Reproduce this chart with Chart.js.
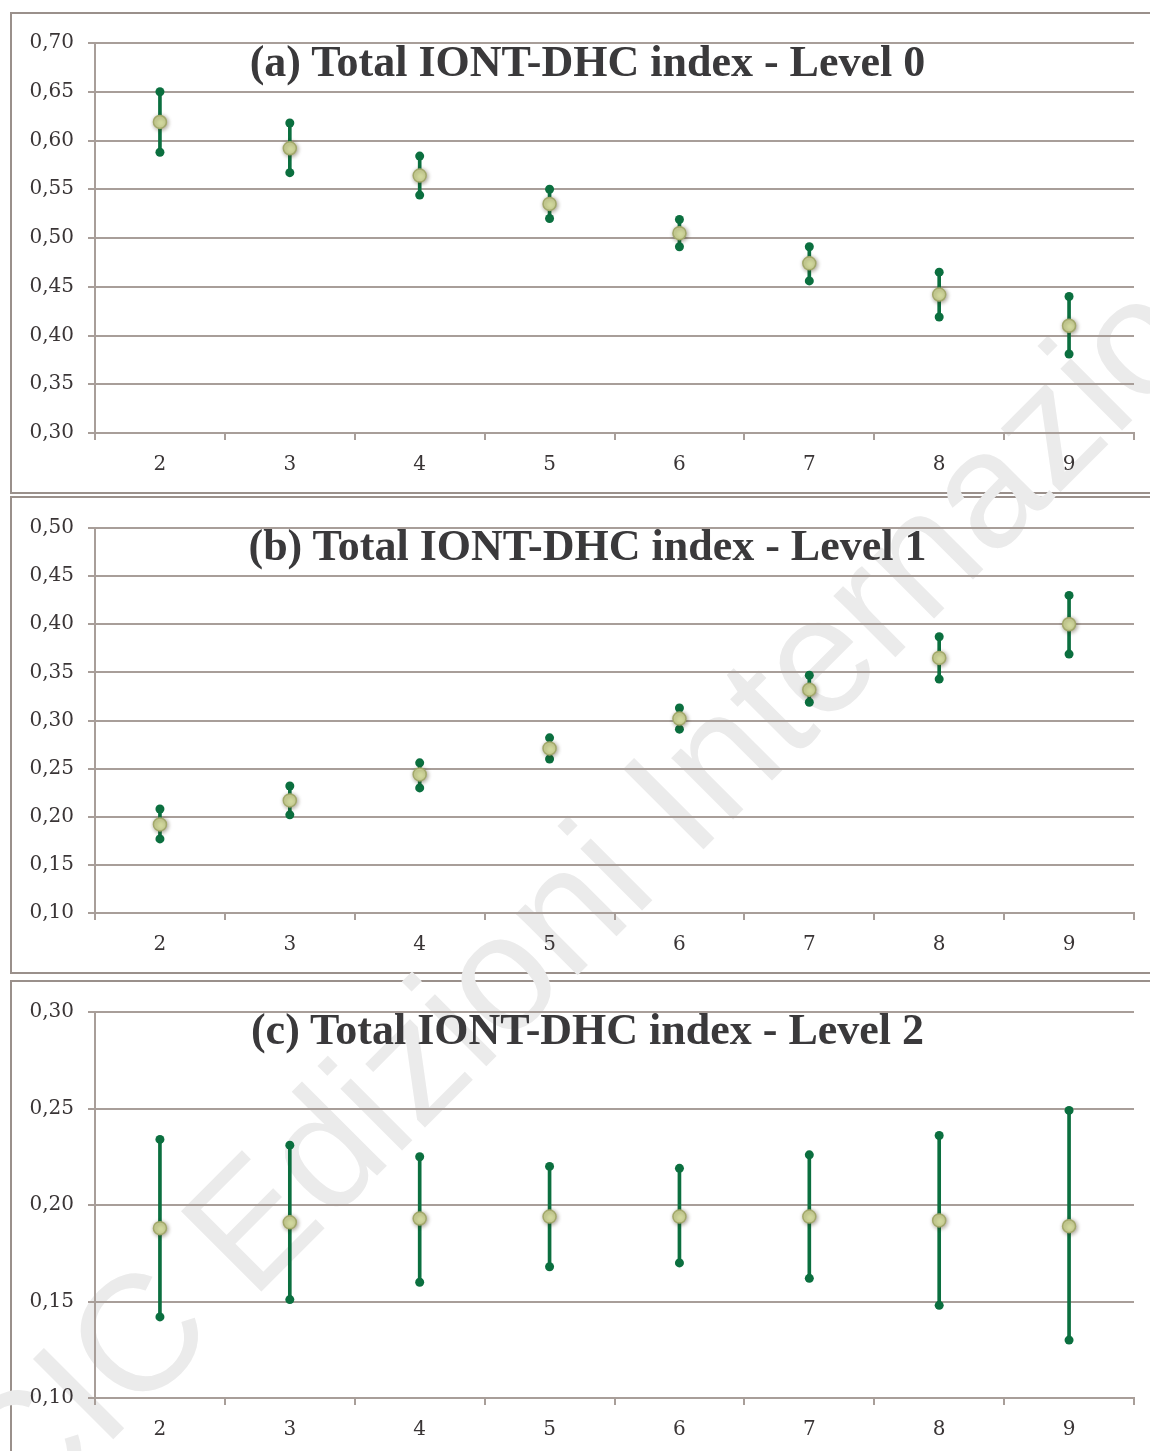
<!DOCTYPE html>
<html>
<head>
<meta charset="utf-8">
<script src="https://cdn.jsdelivr.net/npm/chart.js@4.4.1/dist/chart.umd.min.js"></script>
<style>
  html, body { margin: 0; padding: 0; background: #fff; }
  body { width: 1150px; height: 1451px; position: relative; overflow: hidden; }
  .panel { position: absolute; left: 10px; width: 1200px; border: 2px solid #9a908b; box-sizing: border-box; }
  .wrap { position: absolute; left: 0; width: 1150px; z-index: 2; }
  .title { position: absolute; left: 0; width: 1175px; text-align: center; z-index: 3;
           font-family: "Liberation Serif", serif; font-weight: bold; font-size: 44px;
           line-height: 44px; color: #3a393b; white-space: nowrap; }
  .watermark { position: absolute; z-index: 1; font-family: "Liberation Sans", sans-serif;
               font-size: 165px; line-height: 1; color: #ebebeb; white-space: nowrap;
               transform-origin: 0 0; transform: rotate(-45deg); }
</style>
</head>
<body>
<div class="panel" style="top:12px;height:482px;"></div>
<div class="panel" style="top:496px;height:478px;"></div>
<div class="panel" style="top:980px;height:500px;"></div>

<div class="watermark" style="left:-80px;top:1436px;">CIC Edizioni Internazionali</div>

<div class="wrap" style="top:13px;height:480px;"><canvas id="chartA"></canvas></div>
<div class="wrap" style="top:497px;height:476px;"><canvas id="chartB"></canvas></div>
<div class="wrap" style="top:981px;height:470px;"><canvas id="chartC"></canvas></div>

<div class="title" style="top:40px;">(a) Total IONT-DHC index - Level 0</div>
<div class="title" style="top:524px;">(b) Total IONT-DHC index - Level 1</div>
<div class="title" style="top:1008px;">(c) Total IONT-DHC index - Level 2</div>

<script>
// categorie (asse x)
const categories = ['2', '3', '4', '5', '6', '7', '8', '9'];

// Level 0
const level0Mean = [0.619, 0.592, 0.564, 0.535, 0.505, 0.474, 0.442, 0.410];
const level0Low  = [0.588, 0.567, 0.544, 0.520, 0.491, 0.456, 0.419, 0.381];
const level0High = [0.650, 0.618, 0.584, 0.550, 0.519, 0.491, 0.465, 0.440];

// Level 1
const level1Mean = [0.192, 0.217, 0.244, 0.271, 0.302, 0.332, 0.365, 0.400];
const level1Low  = [0.177, 0.202, 0.230, 0.260, 0.291, 0.319, 0.343, 0.369];
const level1High = [0.208, 0.232, 0.256, 0.282, 0.313, 0.347, 0.387, 0.430];

// Level 2
const level2Mean = [0.188, 0.191, 0.193, 0.194, 0.194, 0.194, 0.192, 0.189];
const level2Low  = [0.142, 0.151, 0.160, 0.168, 0.170, 0.162, 0.148, 0.130];
const level2High = [0.234, 0.231, 0.225, 0.220, 0.219, 0.226, 0.236, 0.249];

const GREEN = '#0b6f3f';
const GRID = '#a89e99';
const TEXT = '#3a3536';

// ombra leggera sotto i marker della media
const shadowPlugin = {
    id: 'meanShadow',
    beforeDatasetDraw(chart, args) {
        if (args.index === 3) {
            const ctx = chart.ctx;
            ctx.save();
            ctx.shadowColor = 'rgba(60, 50, 20, 0.45)';
            ctx.shadowBlur = 4;
            ctx.shadowOffsetX = 1;
            ctx.shadowOffsetY = 1;
        }
    },
    afterDatasetDraw(chart, args) {
        if (args.index === 3) chart.ctx.restore();
    }
};

function makeChart(id, mean, low, high, yMin, yMax, padTop, xHeight) {
    const ctx = document.getElementById(id).getContext('2d');
    return new Chart(ctx, {
        type: 'bar',
        data: {
            labels: categories,
            datasets: [
                {
                    type: 'bar',
                    data: low.map((l, i) => [l, high[i]]),
                    backgroundColor: GREEN,
                    borderWidth: 0,
                    barThickness: 3,
                    order: 4
                },
                {
                    type: 'line',
                    data: low,
                    showLine: false,
                    pointRadius: 4.5,
                    pointBackgroundColor: GREEN,
                    pointBorderWidth: 0,
                    order: 3
                },
                {
                    type: 'line',
                    data: high,
                    showLine: false,
                    pointRadius: 4.5,
                    pointBackgroundColor: GREEN,
                    pointBorderWidth: 0,
                    order: 2
                },
                {
                    type: 'line',
                    data: mean,
                    showLine: false,
                    pointRadius: 6.5,
                    pointBackgroundColor: '#d3da9f',
                    pointBorderColor: '#a2a86a',
                    pointBorderWidth: 1.5,
                    order: 1
                }
            ]
        },
        options: {
            responsive: true,
            maintainAspectRatio: false,
            animation: false,
            layout: { padding: { left: 0, right: 16, top: padTop, bottom: 0 } },
            scales: {
                x: {
                    offset: true,
                    grid: { offset: true, drawOnChartArea: false, drawTicks: true, tickLength: 7, color: GRID, lineWidth: 2 },
                    border: { display: true, color: GRID, width: 2 },
                    ticks: { color: TEXT, padding: 13, font: { family: 'DejaVu Serif', size: 20 }, maxRotation: 0 },
                    afterFit: s => { s.height = xHeight; }
                },
                y: {
                    min: yMin,
                    max: yMax,
                    grid: { color: GRID, lineWidth: 2, tickLength: 7 },
                    border: { display: true, color: GRID, width: 2 },
                    ticks: {
                        stepSize: 0.05,
                        color: TEXT,
                        padding: 14,
                        font: { family: 'DejaVu Serif', size: 20 },
                        callback: v => v.toFixed(2).replace('.', ',')
                    },
                    afterFit: s => { s.width = 95; }
                }
            },
            plugins: {
                legend: { display: false },
                tooltip: { enabled: false },
                title: { display: false }
            }
        },
        plugins: [shadowPlugin]
    });
}

makeChart('chartA', level0Mean, level0Low, level0High, 0.30, 0.70, 30, 60);
makeChart('chartB', level1Mean, level1Low, level1High, 0.10, 0.50, 31, 60);
makeChart('chartC', level2Mean, level2Low, level2High, 0.10, 0.30, 31, 53);
</script>
</body>
</html>
